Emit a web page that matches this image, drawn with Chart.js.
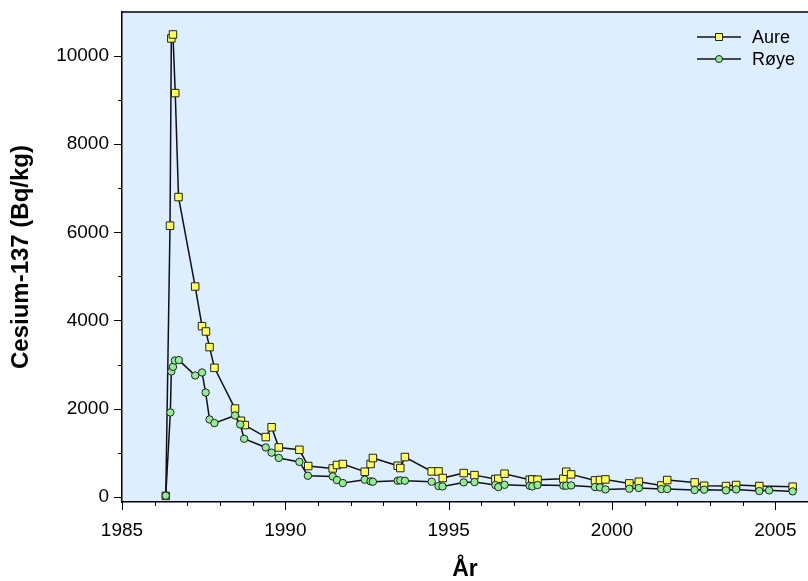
<!DOCTYPE html>
<html lang="no">
<head>
    <meta charset="UTF-8" />
    <title>Cesium-137 i aure og røye</title>
    <script src="https://cdn.jsdelivr.net/npm/chart.js"></script>
    <style>
        html, body { margin: 0; padding: 0; background: #fff; overflow: hidden; }
        #wrap { width: 808px; height: 581px; overflow: hidden; }
        #cesiumChart { display: block; width: 808px; height: 581px; }
    </style>
</head>
<body>
    <div id="wrap"><canvas id="cesiumChart" width="808" height="581"></canvas></div>

    <script>
        // Aure (brown trout) - year and Cs-137 in Bq/kg
        const aureYear = [1986.34, 1986.47, 1986.51, 1986.56, 1986.63, 1986.73, 1987.24, 1987.45, 1987.57, 1987.68,
            1987.83, 1988.46, 1988.64, 1988.76, 1989.40, 1989.58, 1989.80, 1990.43, 1990.70, 1991.45,
            1991.58, 1991.76, 1992.43, 1992.61, 1992.68, 1993.44, 1993.52, 1993.66, 1994.48, 1994.69,
            1994.82, 1995.46, 1995.79, 1996.43, 1996.52, 1996.71, 1997.48, 1997.56, 1997.72, 1998.51,
            1998.60, 1998.75, 1999.48, 1999.63, 1999.80, 2000.53, 2000.82, 2001.51, 2001.69, 2002.53,
            2002.82, 2003.49, 2003.80, 2004.51, 2005.53];
        const aureValue = [20, 6150, 10400, 10490, 9160, 6800, 4770, 3870, 3750, 3395,
            2925, 2000, 1724, 1626, 1354, 1576, 1118, 1065, 696, 642,
            719, 742, 567, 742, 878, 703, 651, 900, 574, 574,
            424, 537, 490, 400, 408, 522, 386, 392, 386, 408,
            567, 506, 370, 378, 392, 302, 340, 256, 378, 325,
            249, 242, 265, 242, 227];

        // Røye (arctic char)
        const royeYear = [1986.34, 1986.48, 1986.51, 1986.56, 1986.62, 1986.74, 1987.24, 1987.45, 1987.56, 1987.68,
            1987.83, 1988.46, 1988.62, 1988.74, 1989.40, 1989.58, 1989.80, 1990.43, 1990.69, 1991.45,
            1991.58, 1991.76, 1992.43, 1992.61, 1992.68, 1993.44, 1993.52, 1993.66, 1994.48, 1994.69,
            1994.81, 1995.46, 1995.79, 1996.43, 1996.52, 1996.71, 1997.48, 1997.56, 1997.72, 1998.51,
            1998.60, 1998.75, 1999.48, 1999.63, 1999.80, 2000.53, 2000.82, 2001.51, 2001.69, 2002.53,
            2002.82, 2003.49, 2003.80, 2004.51, 2004.81, 2005.53];
        const royeValue = [23, 1912, 2842, 2948, 3091, 3100, 2751, 2819, 2365, 1753,
            1671, 1844, 1640, 1315, 1118, 1000, 880, 790, 476, 461,
            378, 310, 386, 348, 340, 363, 370, 363, 340, 242,
            234, 325, 333, 265, 219, 270, 249, 234, 265, 252,
            249, 256, 219, 212, 166, 181, 197, 174, 174, 151,
            159, 144, 166, 129, 144, 121];

        const seriesNames = ["Aure", "Røye"];
        const xMajorTicks = [1985, 1990, 1995, 2000, 2005];
        const xMinorTicks = [1986, 1987, 1988, 1989, 1991, 1992, 1993, 1994, 1996, 1997, 1998, 1999,
            2001, 2002, 2003, 2004, 2006];
        const yMajorTicks = [0, 2000, 4000, 6000, 8000, 10000];
        const yMinorTicks = [1000, 3000, 5000, 7000, 9000];

        const toPoints = (xs, ys) => xs.map((x, i) => ({ x: x, y: ys[i] }));

        // plot background, top frame line and outward tick marks
        const framePlugin = {
            id: "frame",
            beforeDraw(chart) {
                const { ctx, chartArea: a } = chart;
                ctx.save();
                ctx.fillStyle = "#ddeeff";
                ctx.fillRect(a.left, a.top, a.right - a.left, a.bottom - a.top);
                ctx.restore();
            },
            afterDraw(chart) {
                const { ctx, chartArea: a, scales } = chart;
                ctx.save();
                ctx.strokeStyle = "#000";
                ctx.lineWidth = 1.5;
                ctx.beginPath();
                ctx.moveTo(a.left, a.top);
                ctx.lineTo(a.right, a.top);
                ctx.stroke();

                ctx.lineWidth = 1;
                ctx.beginPath();
                xMajorTicks.forEach(v => {
                    const x = Math.round(scales.x.getPixelForValue(v)) + 0.5;
                    ctx.moveTo(x, a.bottom); ctx.lineTo(x, a.bottom + 8);
                });
                xMinorTicks.forEach(v => {
                    const x = Math.round(scales.x.getPixelForValue(v)) + 0.5;
                    if (x > a.right) return;
                    ctx.moveTo(x, a.bottom); ctx.lineTo(x, a.bottom + 4);
                });
                yMajorTicks.forEach(v => {
                    const y = Math.round(scales.y.getPixelForValue(v)) + 0.5;
                    ctx.moveTo(a.left, y); ctx.lineTo(a.left - 8, y);
                });
                yMinorTicks.forEach(v => {
                    const y = Math.round(scales.y.getPixelForValue(v)) + 0.5;
                    ctx.moveTo(a.left, y); ctx.lineTo(a.left - 4, y);
                });
                ctx.stroke();
                ctx.restore();
            }
        };

        // legend in the top right corner: line - marker - line, then the name
        const legendPlugin = {
            id: "lineLegend",
            afterDraw(chart) {
                const ctx = chart.ctx;
                ctx.save();
                ctx.font = "18px 'Liberation Sans', Arial, sans-serif";
                ctx.textBaseline = "middle";
                ctx.fillStyle = "#000";
                chart.data.datasets.forEach((ds, i) => {
                    const y = 37 + i * 22;
                    ctx.strokeStyle = "#111";
                    ctx.lineWidth = 1.5;
                    ctx.beginPath();
                    ctx.moveTo(697, y); ctx.lineTo(741, y);
                    ctx.stroke();
                    ctx.lineWidth = 1;
                    ctx.fillStyle = ds.pointBackgroundColor;
                    ctx.strokeStyle = "#222";
                    ctx.beginPath();
                    if (ds.pointStyle === "rect") {
                        ctx.rect(715.5, y - 3.5, 7, 7);
                    } else {
                        ctx.arc(719, y, 3.5, 0, Math.PI * 2);
                    }
                    ctx.fill();
                    ctx.stroke();
                    ctx.fillStyle = "#000";
                    ctx.fillText(ds.label, 752, y + 1);
                });
                ctx.restore();
            }
        };

        // keep the plot box exactly where the reference has it
        const noScalePadding = s => {
            s.paddingTop = 0; s.paddingBottom = 0; s.paddingLeft = 0; s.paddingRight = 0;
        };

        const tickFont = { family: "'Liberation Sans', Arial, sans-serif", size: 19 };
        const titleFont = { family: "'Liberation Sans', Arial, sans-serif", size: 23, weight: "bold", lineHeight: 1 };

        new Chart(document.getElementById("cesiumChart"), {
            type: "line",
            data: {
                datasets: [
                    {
                        label: seriesNames[0],
                        data: toPoints(aureYear, aureValue),
                        borderColor: "#111",
                        borderWidth: 1.5,
                        pointStyle: "rect",
                        pointRadius: 5.3,
                        pointBackgroundColor: "#ffff55",
                        pointBorderColor: "#222",
                        pointBorderWidth: 1,
                        order: 1
                    },
                    {
                        label: seriesNames[1],
                        data: toPoints(royeYear, royeValue),
                        borderColor: "#111",
                        borderWidth: 1.5,
                        pointStyle: "circle",
                        pointRadius: 3.7,
                        pointBackgroundColor: "#90ee90",
                        pointBorderColor: "#222",
                        pointBorderWidth: 1,
                        order: 0
                    }
                ]
            },
            options: {
                responsive: false,
                devicePixelRatio: 1,
                animation: false,
                layout: { autoPadding: false, padding: { top: 12, right: 0, left: 0, bottom: 0 } },
                plugins: {
                    legend: { display: false },
                    tooltip: { enabled: false }
                },
                scales: {
                    x: {
                        type: "linear",
                        min: 1985,
                        max: 2006,
                        afterBuildTicks: s => { s.ticks = xMajorTicks.map(v => ({ value: v })); },
                        afterFit: s => { s.height = 79; noScalePadding(s); },
                        grid: { display: false, drawTicks: false },
                        border: { display: true, color: "#000", width: 1.5 },
                        ticks: {
                            font: tickFont,
                            color: "#000",
                            padding: 17,
                            maxRotation: 0,
                            autoSkip: false,
                            callback: v => String(v)
                        },
                        title: { display: true, text: "År", font: titleFont, color: "#000", padding: 0 }
                    },
                    y: {
                        min: -120,
                        max: 11000,
                        afterBuildTicks: s => { s.ticks = yMajorTicks.map(v => ({ value: v })); },
                        afterFit: s => { s.width = 122; noScalePadding(s); },
                        grid: { display: false, drawTicks: false },
                        border: { display: true, color: "#000", width: 1.5 },
                        ticks: {
                            font: tickFont,
                            color: "#000",
                            padding: 13,
                            autoSkip: false,
                            callback: v => String(v)
                        },
                        title: {
                            display: true,
                            text: "Cesium-137 (Bq/kg)",
                            font: { family: "'Liberation Sans', Arial, sans-serif", size: 24, weight: "bold", lineHeight: 1 },
                            color: "#000",
                            padding: { top: 9, bottom: 0 }
                        }
                    }
                }
            },
            plugins: [framePlugin, legendPlugin]
        });
    </script>
</body>
</html>
